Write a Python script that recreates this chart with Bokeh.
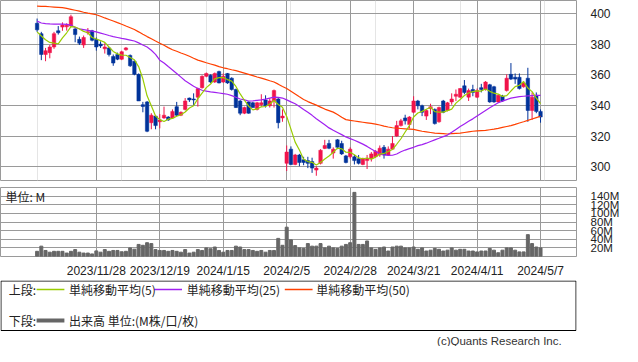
from bokeh.plotting import figure
from bokeh.layouts import column
from bokeh.models import ColumnDataSource, FixedTicker, Grid, PrintfTickFormatter, Range1d, Label
from bokeh.core.properties import value
from bokeh.embed import file_html
from bokeh.resources import INLINE

# ---------------- data ----------------
date_ticks = [14, 29, 44, 59, 74, 89, 104, 119]
date_labels = ["2023/11/28", "2023/12/19", "2024/1/15", "2024/2/5",
               "2024/2/28", "2024/3/21", "2024/4/11", "2024/5/7"]
price_ticks = [300, 320, 340, 360, 380, 400]
volume_ticks = [20, 40, 60, 80, 100, 120, 140]

opens = [393.8, 387, 373.4, 374.6, 378.3, 388.9, 391.3, 391.5, 392, 390.1,
         383.3, 379.6, 387.6, 388.9, 383.3, 380.2, 377.1, 377.7, 372.1, 373.4,
         370.3, 376.5, 372.8, 369, 360.4, 340.6, 342.4, 328.8, 333.1, 329.4,
         331.9, 332.5, 331.9, 339.3, 333.7, 337.5, 344.9, 344.3, 345.5, 351.7,
         359.1, 359.8, 355.4, 362.2, 355.4, 361, 357.9, 350.5, 343, 335,
         342.4, 341.8, 337.5, 340.6, 343.7, 339.9, 343, 344.3, 331.9, 302.2,
         311.5, 301.5, 307.7, 304.6, 304, 303.4, 297.8, 302.2, 312, 315.2,
         309, 317.6, 315.2, 307.1, 306.5, 306.5, 305.3, 301.5, 304, 305.3,
         306.5, 307.7, 312.7, 307.7, 311.5, 320.1, 326.9, 331.9, 327.6, 335.6,
         343, 339.9, 333.1, 338.1, 337.5, 329.4, 343, 336.8, 342.4, 346.1,
         345.5, 352.9, 345.5, 350.5, 345.5, 351.7, 350.5, 353.6, 352.3, 342.4,
         346.1, 349.8, 360.4, 358.5, 358.5, 352.3, 357.9, 336.8, 346.7, 336.2]

highs = [396.9, 388.2, 377.7, 379.6, 388.2, 392, 394.4, 393.8, 399.4, 391.3,
         385.1, 385.8, 390.7, 389.5, 384.5, 382, 380.8, 378.3, 373.4, 374.6,
         375.9, 378.3, 373.4, 369.7, 361, 342.4, 343, 335, 333.4, 334.4,
         339.3, 333.1, 337.5, 342.4, 336.2, 344.9, 345.2, 348, 351.7, 359.8,
         361.6, 360.4, 361.6, 362.8, 361, 361.3, 358.5, 351.1, 343.7, 339.3,
         342.7, 342.4, 342.4, 347.4, 346.7, 344.9, 350.5, 344.9, 337.5, 313.9,
         313.3, 308.4, 308.4, 306.5, 306.5, 305.9, 300.3, 311.5, 317.6, 317.6,
         312.7, 318, 317, 307.7, 312.7, 307.7, 307.7, 305.9, 307.7, 309.6,
         310.8, 313.9, 314.2, 313.3, 320.1, 330, 331.3, 334, 333.1, 346.1,
         343.7, 340.6, 337.5, 341.2, 338.1, 339.3, 343.7, 342.4, 348, 350.5,
         351.4, 356.7, 351.1, 353.6, 351.1, 354.2, 356, 354.2, 352.9, 347.4,
         347, 360.4, 367.8, 361, 361, 356, 364.7, 348.6, 348.6, 337.5]

lows = [388.2, 369.7, 369, 370.9, 377.1, 386.4, 388.9, 389, 391.3, 381.4,
        379.6, 377.7, 386.4, 382, 375.9, 377.7, 374, 372.1, 366, 369.7,
        369.7, 375.9, 365.3, 359.8, 343, 335.6, 322.6, 324.5, 324.5, 325.1,
        331.3, 330, 331.6, 333.1, 333.1, 336.8, 342.4, 339.9, 339.3, 351.1,
        358.5, 354.8, 354.8, 354.5, 354.8, 354.2, 349.8, 338.4, 333.7, 334.4,
        334.7, 338.7, 336.8, 339.3, 338.7, 338.7, 338.7, 325.1, 329.4, 297.2,
        301, 301, 300.3, 301, 299.1, 296, 294.1, 301.5, 311.5, 311.5,
        305.3, 311.5, 307.7, 302.2, 305.3, 301.5, 301.5, 301, 298.5, 303.4,
        305.9, 306.5, 305.3, 307.1, 311.2, 319.5, 326.3, 327.6, 325.1, 335,
        337.5, 333.1, 330.6, 334.4, 327.6, 328.8, 335, 336.2, 340.6, 343,
        344.9, 347.4, 343, 346.1, 344.9, 348.6, 349.8, 341.8, 341.8, 341.8,
        342.4, 349.2, 356.7, 354.2, 350.5, 351.7, 329.4, 330.6, 335, 328.8]

closes = [389.5, 373.4, 375.9, 378.3, 387, 387.6, 392.6, 392.5, 398.1, 386.4,
          380.8, 384.5, 388.2, 382.7, 378.3, 379, 378.3, 373.4, 367.8, 370.3,
          375.2, 377.7, 366, 360.4, 343, 339.4, 323.2, 333.7, 326.9, 330.6,
          333.7, 330.6, 336.2, 333.7, 335.6, 343, 343.7, 343.7, 351.1, 359.1,
          361, 355.4, 361, 354.8, 359.1, 354.8, 350.5, 338.7, 335, 338.7,
          335, 338.7, 341.8, 341.8, 339.9, 343, 349.8, 328.8, 333.1, 309.6,
          301.5, 307.7, 302.8, 302.8, 302.2, 299.1, 299.1, 310.8, 313.9, 312.1,
          311.5, 312.7, 308.4, 302.8, 311.5, 304, 302.2, 305.3, 305.3, 308.4,
          310.2, 312.1, 307.7, 311.5, 315.2, 326.9, 330, 330, 332.5, 343,
          339.9, 335.6, 336.8, 339.3, 328.2, 338.7, 335.6, 341.8, 344.3, 347.4,
          351.1, 348.6, 349.8, 348.6, 349.8, 350.5, 355.4, 342.4, 342.4, 346.7,
          343, 357.9, 357.3, 357.3, 351.1, 354.8, 336.8, 345.5, 336.2, 332.5]

sma5 = [388.2, 385.5, 383, 381.3, 380.8, 380.4, 384.3, 387.6, 391.6, 391.4,
        390.1, 388.5, 387.6, 384.5, 383.5, 382.5, 381.3, 378.3, 375.4, 373.8,
        373, 372.9, 371.4, 369.9, 365.5, 357.5, 346.4, 339.9, 333.2, 330.8,
        329.6, 331.1, 331.6, 333, 334, 335.8, 338.4, 339.9, 344.5, 348.1,
        351.7, 354.1, 357.5, 358.3, 358.3, 357, 356, 352.5, 347.6, 343.5,
        339.6, 337.2, 337.8, 339.2, 339.4, 341, 343.3, 340.7, 338.9, 332.9,
        324.6, 316.1, 310.9, 304.9, 303.4, 302.9, 301.2, 302.8, 305, 307,
        309.5, 312.2, 311.7, 309.5, 309.4, 307.9, 305.8, 305.2, 305.7, 305,
        306.3, 308.3, 308.7, 310, 311.3, 314.7, 318.3, 322.7, 326.9, 332.5,
        335.1, 336.2, 337.6, 338.9, 336, 335.7, 335.7, 336.7, 337.7, 341.6,
        344, 346.6, 348.2, 349.1, 349.6, 349.5, 350.8, 349.3, 348.1, 347.5,
        346, 346.5, 349.5, 352.4, 353.3, 355.7, 351.5, 349.1, 344.9, 341.2]

sma25 = [395.2, 394, 393.6, 393.4, 393.3, 393.2, 393.2, 393.1, 392.6, 391,
         390.2, 389.7, 389.2, 388.7, 388.2, 387.4, 386.6, 385.8, 385.1, 384.5,
         383.9, 383.4, 382.8, 382.2, 381, 379.6, 378.3, 376.2, 373.5, 369.7,
         367.8, 365.5, 363.3, 361, 358.6, 356.2, 354.5, 352.6, 351.2, 350,
         349.4, 348.9, 348.6, 348.2, 347.8, 347.4, 346.5, 345.4, 344.3, 343.7,
         343, 343.1, 343.4, 343.7, 344.2, 344.9, 345.5, 345.4, 344.9, 343.7,
         342.4, 341.2, 339.4, 337.4, 335.6, 333.6, 331.4, 329.4, 327.4, 325.4,
         323.8, 322.4, 321, 319.5, 318.4, 317.3, 316.1, 314.8, 313.3, 311.6,
         310, 308.6, 307.7, 307.4, 307.5, 308.3, 309.8, 310.9, 311.8, 312.7,
         313.8, 314.5, 315.4, 316.5, 317.6, 318.6, 319.7, 320.7, 322.5, 324.4,
         326.3, 328, 329.7, 331.3, 333.2, 335, 336.8, 338.5, 340.2, 341.8,
         342.9, 343.9, 344.9, 345.4, 345.8, 346.1, 346.3, 346.5, 346.6, 346.7]

sma50 = [405, 404.9, 404.8, 404.6, 404.4, 404.2, 404, 403.5, 402.9, 402.3,
         401.7, 401, 400.4, 399.9, 399.4, 398.4, 397.3, 396.3, 395.3, 394.2,
         393.2, 392, 390.9, 389.7, 388.2, 386.6, 385.1, 383.7, 382.2, 380.8,
         379.4, 377.9, 376.5, 375.5, 374.4, 373.4, 372.2, 370.9, 369.7, 368.9,
         368, 367.2, 366.4, 365.5, 364.7, 364.1, 363.4, 362.8, 362, 361.2,
         360.4, 359.6, 358.7, 357.9, 357.1, 356.2, 355.4, 354, 352.5, 351.1,
         349.3, 347.5, 345.7, 344, 342.6, 341.4, 340.3, 339, 337.7, 336.7,
         335.7, 334.2, 332.4, 330.8, 330.3, 329.9, 329.5, 329.1, 328.7, 328.3,
         327.9, 327.3, 326.6, 326, 325.5, 325.2, 325, 324.8, 324.6, 324.4,
         323.8, 323.2, 322.8, 322.4, 322, 321.8, 321.6, 321.4, 321.6, 321.8,
         322, 322.4, 322.8, 323.2, 323.4, 323.6, 323.8, 324.2, 324.6, 325.1,
         325.7, 326.3, 326.9, 327.7, 328.6, 329.4, 330.3, 331.2, 332.1, 333]

volumes = [12, 24, 14, 10, 12, 12, 12, 8, 12, 16,
           10, 8, 8, 6, 13, 10, 16, 12, 14, 14,
           11, 12, 20, 17, 28, 26, 32, 30, 16, 14,
           14, 12, 14, 12, 10, 16, 8, 10, 16, 14,
           20, 18, 22, 14, 10, 14, 14, 24, 22, 16,
           16, 14, 12, 14, 10, 14, 14, 42, 26, 68,
           38.7, 25.3, 20, 18.7, 30, 24, 24, 30, 20, 24,
           20, 18.7, 24, 28, 32, 148.7, 28, 28, 36, 20,
           16.7, 20, 22, 12.7, 22, 24, 24, 20, 20, 22,
           16.7, 20, 12.7, 14.7, 18.7, 16.7, 12.7, 14.7, 20, 14.7,
           16.7, 16.7, 12.7, 12.7, 10.7, 12.7, 12.7, 18.7, 14.7, 8.7,
           14.7, 20, 20, 14.7, 10.7, 10.7, 50.7, 30, 22, 20]

# ---------------- styles ----------------
UP = "#f0144b"
DOWN = "#00339a"
C5 = "#99cc00"
C25 = "#a020f0"
C50 = "#ff4000"
VOL = "#666666"
GRID = "#9a9a9a"
TXT = "#222222"
NUM_FONT = "Liberation Sans"
JP_FONT = "Noto Sans CJK JP"

n = len(closes)
idx = list(range(n))
colors = [UP if c >= o else DOWN for o, c in zip(opens, closes)]
src = ColumnDataSource(dict(
    idx=idx, open=opens, high=highs, low=lows, close=closes,
    top=[max(o, c) for o, c in zip(opens, closes)],
    bottom=[min(o, c) for o, c in zip(opens, closes)],
    color=colors, sma5=sma5, sma25=sma25, sma50=sma50, vol=volumes,
))

X0, X1 = -8.65, 127.5
xr = Range1d(X0, X1)

# ---------------- price panel ----------------
p = figure(width=622, height=187, x_range=xr, y_range=Range1d(291.0, 408.7),
           x_axis_location=None, y_axis_location="right",
           toolbar_location=None, output_backend="svg",
           min_border_left=0, min_border_right=40, min_border_top=0, min_border_bottom=7)
p.outline_line_color = GRID
p.background_fill_color = "white"
p.border_fill_color = "white"
p.yaxis.ticker = FixedTicker(ticks=price_ticks)
p.yaxis.axis_line_color = None
p.yaxis.major_tick_line_color = None
p.yaxis.minor_tick_line_color = None
p.yaxis.major_label_standoff = 8
p.yaxis.major_label_text_font = NUM_FONT
p.yaxis.major_label_text_font_size = "12px"
p.yaxis.major_label_text_color = TXT
p.ygrid.grid_line_color = GRID
p.add_layout(Grid(dimension=0, ticker=FixedTicker(ticks=date_ticks), grid_line_color=GRID))

p.segment(x0="idx", y0="high", x1="idx", y1="low", color="color", line_width=1, source=src)
p.vbar(x="idx", top="top", bottom="bottom", width=0.82, fill_color="color",
       line_color="color", line_width=0.5, source=src)
p.line("idx", "sma50", color=C50, line_width=1.2, source=src)
p.line("idx", "sma25", color=C25, line_width=1.2, source=src)
p.line("idx", "sma5", color=C5, line_width=1.2, source=src)

# ---------------- volume panel ----------------
v = figure(width=622, height=93, x_range=xr, y_range=Range1d(0, 160),
           y_axis_location="right", toolbar_location=None, output_backend="svg",
           min_border_left=0, min_border_right=40, min_border_top=0, min_border_bottom=15)
v.outline_line_color = GRID
v.background_fill_color = "white"
v.border_fill_color = "white"
v.yaxis.ticker = FixedTicker(ticks=volume_ticks)
v.yaxis.formatter = PrintfTickFormatter(format="%dM")
v.yaxis.axis_line_color = None
v.yaxis.major_tick_line_color = None
v.yaxis.minor_tick_line_color = None
v.yaxis.major_label_standoff = 8
v.yaxis.major_label_text_font = NUM_FONT
v.yaxis.major_label_text_font_size = "11.5px"
v.yaxis.major_label_text_color = TXT
v.xaxis.ticker = FixedTicker(ticks=date_ticks)
v.xaxis.major_label_overrides = {t: s for t, s in zip(date_ticks, date_labels)}
v.xaxis.axis_line_color = None
v.xaxis.major_tick_line_color = None
v.xaxis.minor_tick_line_color = None
v.xaxis.major_label_standoff = 1
v.xaxis.major_label_text_font = NUM_FONT
v.xaxis.major_label_text_font_size = "12px"
v.xaxis.major_label_text_color = TXT
v.grid.grid_line_color = GRID
v.vbar(x="idx", top="vol", bottom=0, width=0.7, color=VOL, source=src)
v.add_layout(Label(x=X0 + 1.2, y=140, text="単位: M", text_font=JP_FONT,
                   text_font_size="12px", text_color=TXT, text_baseline="middle"))

# ---------------- legend panel ----------------
lg = figure(width=622, height=66, x_range=Range1d(0, 622), y_range=Range1d(0, 66),
            x_axis_location=None, y_axis_location=None, toolbar_location=None,
            output_backend="svg", min_border=0)
lg.outline_line_color = None
lg.grid.visible = False
lg.quad(left=[0.5], right=[621.5], top=[65.5], bottom=[16], fill_color=None, line_color="black", line_width=1)
lg.segment(x0=[39, 166, 307], y0=[57, 57, 57], x1=[69, 196, 337], y1=[57, 57, 57],
           color=[C5, C25, C50], line_width=1.5)
lg.segment(x0=[39], y0=[26], x1=[69], y1=[26], color=VOL, line_width=4)
lg.text(x=[9, 74, 201, 341, 9, 74], y=[57, 57, 57, 57, 26, 26],
        text=["上段:", "単純移動平均(5)", "単純移動平均(25)", "単純移動平均(50)", "下段:", "出来高 単位:(M株/口/枚)"],
        text_font=value(JP_FONT), text_font_size="12px", text_color=TXT, text_baseline="middle")
lg.text(x=[606], y=[6], text=["(c)Quants Research Inc."], text_font=value("Liberation Sans"),
        text_font_size="11.5px", text_color="#333333", text_baseline="middle", text_align="right")

layout = column(p, v, lg)
open("out.html", "w").write(file_html(layout, INLINE, title="chart"))
